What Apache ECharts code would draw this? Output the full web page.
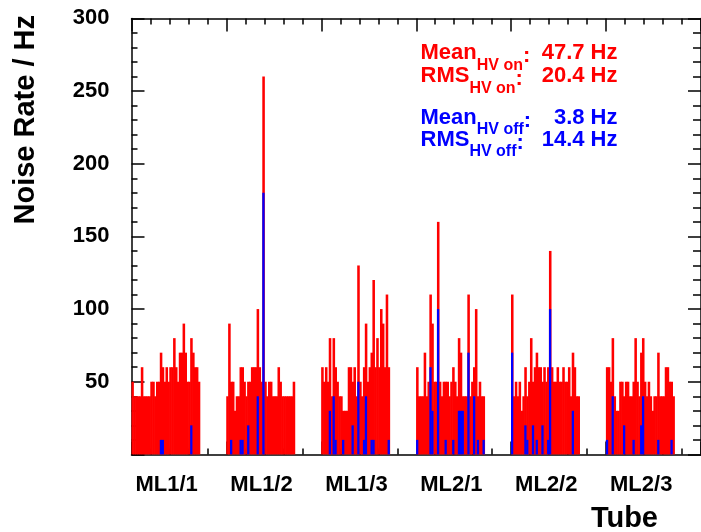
<!DOCTYPE html>
<html>
<head>
<meta charset="utf-8">
<script src="https://cdn.jsdelivr.net/npm/echarts@6/dist/echarts.min.js"></script>
<style>
html,body{margin:0;padding:0;background:#fff;}
#chart{width:701px;height:532px;}
</style>
</head>
<body>
<div id="chart"></div>
<script>
// ---- data (noise rate per tube, Hz) ----
const groupLabels = ['ML1/1', 'ML1/2', 'ML1/3', 'ML2/1', 'ML2/2', 'ML2/3'];
const tubeSlotsPerGroup = 50;   // tube numbering pitch between layers
const nTubeSlots = 300;

const ml11On = [50,40,40,40,40,60,40,40,40,40,50,50,40,50,50,70,60,50,60,50,60,60,80,60,50,70,70,90,70,50,50,80,70,60,60,50];
const ml12On = [40,90,50,50,30,40,40,60,60,50,40,50,50,60,60,60,100,60,50,260,50,40,50,50,40,40,40,60,50,40,40,40,40,40,40,50];
const ml13On = [60,50,60,50,80,40,80,60,50,40,40,30,30,30,60,60,50,60,40,130,50,40,60,90,50,60,70,120,60,80,60,100,90,60,110,60];
const ml21On = [60,40,40,40,70,40,50,110,90,50,50,160,50,40,50,50,50,40,50,60,50,40,80,70,40,40,40,110,40,50,60,100,40,50,40,40];
const ml22On = [110,40,50,40,50,30,40,60,40,50,80,50,60,70,60,60,50,60,50,60,140,60,50,50,60,50,50,60,50,50,60,40,70,60,40,40];
const ml23On = [60,60,50,80,40,30,30,50,50,40,50,50,40,40,50,80,50,40,70,80,50,40,50,40,30,40,40,70,40,40,40,60,60,50,50,40];

const ml11Off = [0,0,0,0,0,0,0,0,0,0,0,0,0,0,0,10,10,0,0,0,0,0,0,0,0,0,0,0,0,0,0,20,0,0,0,0];
const ml12Off = [0,0,10,0,0,0,0,10,10,0,0,20,0,0,0,0,40,0,0,180,0,0,0,0,0,0,0,0,0,0,0,0,0,0,0,0];
const ml13Off = [0,0,0,0,30,0,40,10,0,0,0,10,0,0,0,0,20,0,0,50,0,0,10,40,0,0,10,10,0,0,0,0,0,0,0,10];
const ml21Off = [10,0,0,0,0,0,0,60,30,0,0,100,0,0,0,10,0,0,0,10,0,0,30,30,30,0,0,70,0,0,40,0,10,0,0,10];
const ml22Off = [70,0,0,0,0,0,0,20,10,0,0,20,0,10,0,0,20,0,0,10,100,0,0,0,0,0,0,0,0,0,0,0,30,0,0,0];
const ml23Off = [10,0,0,40,0,0,0,0,0,20,0,0,0,0,10,0,0,0,20,40,0,0,0,0,0,0,0,10,0,0,0,0,0,0,10,0];

const yMin = 0, yMax = 300, yStep = 50;
const meanOn = '47.7', rmsOn = '20.4', meanOff = '3.8', rmsOff = '14.4';

// ---- build ----
const onGroups = [ml11On, ml12On, ml13On, ml21On, ml22On, ml23On];
const offGroups = [ml11Off, ml12Off, ml13Off, ml21Off, ml22Off, ml23Off];
const cats = [];
for (let i = 0; i < nTubeSlots; i++) cats.push(String(i));
const redData = new Array(nTubeSlots).fill('-');
const blueData = new Array(nTubeSlots).fill('-');
onGroups.forEach((arr, g) => arr.forEach((v, i) => { redData[g * tubeSlotsPerGroup + i] = v; }));
offGroups.forEach((arr, g) => arr.forEach((v, i) => { if (v > 0) blueData[g * tubeSlotsPerGroup + i] = v; }));

const FF = '"Liberation Sans", Arial, Helvetica, sans-serif';
const RED = '#ff0000', BLUE = '#0000ff';
const lineBlack = { color: '#000', width: 1.5 };

function catAxis(position, tickLen, every, opts) {
  return Object.assign({
    type: 'category', data: cats, position: position, boundaryGap: true,
    axisLine: { show: false },
    axisTick: { show: true, inside: true, length: tickLen, lineStyle: lineBlack,
      interval: function (idx) { return idx % every === 0; } },
    axisLabel: { show: false },
    splitLine: { show: false }
  }, opts || {});
}

const chart = echarts.init(document.getElementById('chart'), null, { renderer: 'canvas' });

function statLine(word, sub, color, yBase) {
  return {
    type: 'text', x: 420.5, y: yBase - 18.6, silent: true,
    style: {
      text: '{m|' + word + '}{s|' + sub + '}{c|:}',
      align: 'left', verticalAlign: 'top',
      rich: {
        m: { fontSize: 22, fontWeight: 'bold', fontFamily: FF, lineHeight: 22, verticalAlign: 'top', fill: color },
        s: { fontSize: 16, fontWeight: 'bold', fontFamily: FF, lineHeight: 16, verticalAlign: 'top', padding: [15, 0, 0, 0], fill: color },
        c: { fontSize: 22, fontWeight: 'bold', fontFamily: FF, lineHeight: 22, verticalAlign: 'top', padding: [3, 0, 0, 0], fill: color }
      }
    }
  };
}
function statValue(val, color, yBase) {
  return {
    type: 'text', x: 617.5, y: yBase - 7.6, silent: true,
    style: { text: val + ' Hz', font: 'bold 22px ' + FF, fill: color, align: 'right', verticalAlign: 'middle' }
  };
}

const option = {
  animation: false,
  backgroundColor: '#fff',
  grid: { left: 131.5, top: 18.4, width: 574, height: 436, containLabel: false },
  xAxis: [
    catAxis('bottom', 6, 10, {
      axisLine: { show: true, lineStyle: lineBlack },
      axisLabel: {
        show: true, margin: 20, color: '#000', fontFamily: FF, fontWeight: 'bold', fontSize: 22,
        interval: function (idx) { return idx % tubeSlotsPerGroup === 18; },
        formatter: function (v, idx) { return groupLabels[Math.floor(Number(v) / tubeSlotsPerGroup)]; }
      }
    }),
    catAxis('bottom', 13, 50),
    catAxis('top', 6, 10, { axisLine: { show: true, lineStyle: lineBlack } }),
    catAxis('top', 13, 50)
  ],
  yAxis: [
    {
      type: 'value', min: yMin, max: yMax, interval: yStep, position: 'left',
      axisLine: { show: true, lineStyle: lineBlack },
      axisTick: { show: true, inside: true, length: 13, lineStyle: lineBlack },
      minorTick: { show: true, splitNumber: 5, length: 6, lineStyle: lineBlack },
      splitLine: { show: false },
      axisLabel: { show: true, margin: 22, color: '#000', fontFamily: FF, fontWeight: 'bold', fontSize: 22,
        formatter: function (v) { return v === 0 ? '' : String(v); } }
    },
    {
      type: 'value', min: yMin, max: yMax, interval: yStep, position: 'right',
      axisLine: { show: true, lineStyle: lineBlack },
      axisTick: { show: true, inside: true, length: 13, lineStyle: lineBlack },
      minorTick: { show: true, splitNumber: 5, length: 8, lineStyle: lineBlack },
      splitLine: { show: false },
      axisLabel: { show: false }
    }
  ],
  series: [
    { type: 'bar', name: 'HV on', xAxisIndex: 0, yAxisIndex: 0, data: redData,
      barWidth: '135%', barGap: '-100%',
      itemStyle: { color: RED }, silent: true },
    { type: 'bar', name: 'HV off', xAxisIndex: 0, yAxisIndex: 0, data: blueData,
      barWidth: '120%', barGap: '-100%',
      itemStyle: { color: BLUE }, silent: true }
  ],
  graphic: [
    { type: 'text', x: 25.5, y: 15, rotation: Math.PI / 2, silent: true,
      style: { text: 'Noise Rate / Hz', font: 'bold 29px ' + FF, fill: '#000', align: 'right', verticalAlign: 'middle' } },
    { type: 'text', x: 658, y: 519, silent: true,
      style: { text: 'Tube', font: 'bold 29px ' + FF, fill: '#000', align: 'right', verticalAlign: 'middle' } },
    statLine('Mean', 'HV on', RED, 61),
    statValue(meanOn, RED, 61),
    statLine('RMS', 'HV on', RED, 84),
    statValue(rmsOn, RED, 84),
    statLine('Mean', 'HV off', BLUE, 125.5),
    statValue(meanOff, BLUE, 125.5),
    statLine('RMS', 'HV off', BLUE, 147.5),
    statValue(rmsOff, BLUE, 147.5)
  ]
};
chart.setOption(option);
</script>
</body>
</html>
